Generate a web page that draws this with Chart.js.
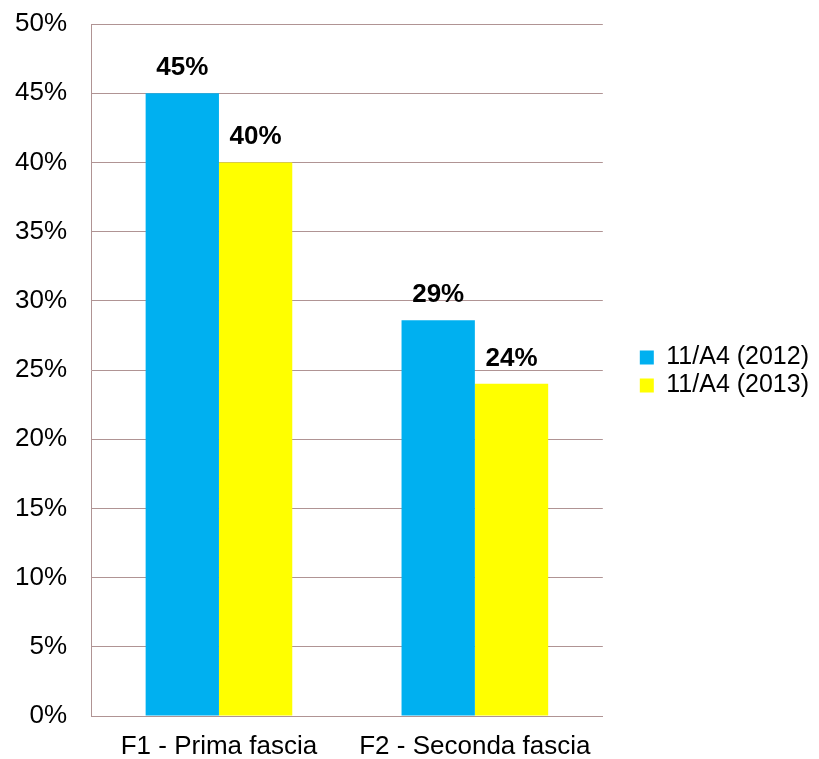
<!DOCTYPE html>
<html>
<head>
<meta charset="utf-8">
<script src="https://cdn.jsdelivr.net/npm/chart.js@4.4.0/dist/chart.umd.min.js"></script>
<style>
  html, body { margin: 0; padding: 0; background: #fff; }
  #wrap { width: 819px; height: 759px; }
</style>
</head>
<body>
<div id="wrap"><canvas id="chart"></canvas></div>
<script>
// Data
const categories = ['F1 - Prima fascia', 'F2 - Seconda fascia'];
const seriesNames = ['11/A4 (2012)', '11/A4 (2013)'];
const values2012 = [45, 28.6];
const values2013 = [40, 24];
const yTicks = [0, 5, 10, 15, 20, 25, 30, 35, 40, 45, 50];

const FONT = "'Liberation Sans', Arial, sans-serif";
const gridColor = '#B09494';

// Value labels above each bar
const barLabels = {
    id: 'barLabels',
    afterDatasetsDraw(chart) {
        const ctx = chart.ctx;
        ctx.save();
        ctx.font = 'bold 26px ' + FONT;
        ctx.fillStyle = '#000';
        ctx.textAlign = 'center';
        ctx.textBaseline = 'alphabetic';
        chart.data.datasets.forEach((ds, i) => {
            chart.getDatasetMeta(i).data.forEach((bar, j) => {
                ctx.fillText(Math.round(ds.data[j]) + '%', bar.x, bar.y - 18);
            });
        });
        ctx.restore();
    }
};

// Legend sits a little higher than centred in the reference
const legendNudge = {
    id: 'legendNudge',
    afterLayout(chart) {
        if (chart.legend) {
            chart.legend.top -= 20;
            chart.legend.bottom -= 20;
        }
    }
};

new Chart(document.getElementById('chart'), {
    type: 'bar',
    data: {
        labels: categories,
        datasets: [
            { label: seriesNames[0], data: values2012, backgroundColor: '#00B0F0' },
            { label: seriesNames[1], data: values2013, backgroundColor: '#FFFF00' }
        ]
    },
    options: {
        responsive: true,
        maintainAspectRatio: false,
        animation: false,
        layout: { autoPadding: false, padding: { left: 0, top: 24, right: 0, bottom: 0 } },
        datasets: {
            bar: { categoryPercentage: 0.573, barPercentage: 1.0 }
        },
        plugins: {
            tooltip: { enabled: false },
            legend: {
                position: 'right',
                maxWidth: 220,
                labels: {
                    color: '#000',
                    font: { family: FONT, size: 25 },
                    boxWidth: 14,
                    boxHeight: 14,
                    padding: 3
                }
            }
        },
        scales: {
            x: {
                grid: { display: false, drawTicks: false },
                border: { color: gridColor, width: 1 },
                ticks: { color: '#000', font: { family: FONT, size: 26 }, padding: 15 },
                afterFit(s) { s.height = 43; }
            },
            y: {
                min: 0,
                max: 50,
                afterBuildTicks(axis) { axis.ticks = yTicks.map(v => ({ value: v })); },
                grid: { color: gridColor, lineWidth: 1, drawTicks: false },
                border: { color: gridColor, width: 1 },
                ticks: {
                    color: '#000',
                    font: { family: FONT, size: 26 },
                    padding: 24,
                    callback: v => v + '%'
                },
                afterFit(s) {
                    s.width = 91;
                    s.paddingTop = 0;
                    s.paddingBottom = 0;
                }
            },
            // empty spacer between the plot and the legend
            gap: {
                type: 'linear',
                position: 'right',
                display: true,
                grid: { display: false, drawTicks: false },
                border: { display: false },
                ticks: { display: false },
                afterFit(s) {
                    s.width = 34;
                    s.paddingTop = 0;
                    s.paddingBottom = 0;
                }
            }
        }
    },
    plugins: [barLabels, legendNudge]
});
</script>
</body>
</html>
